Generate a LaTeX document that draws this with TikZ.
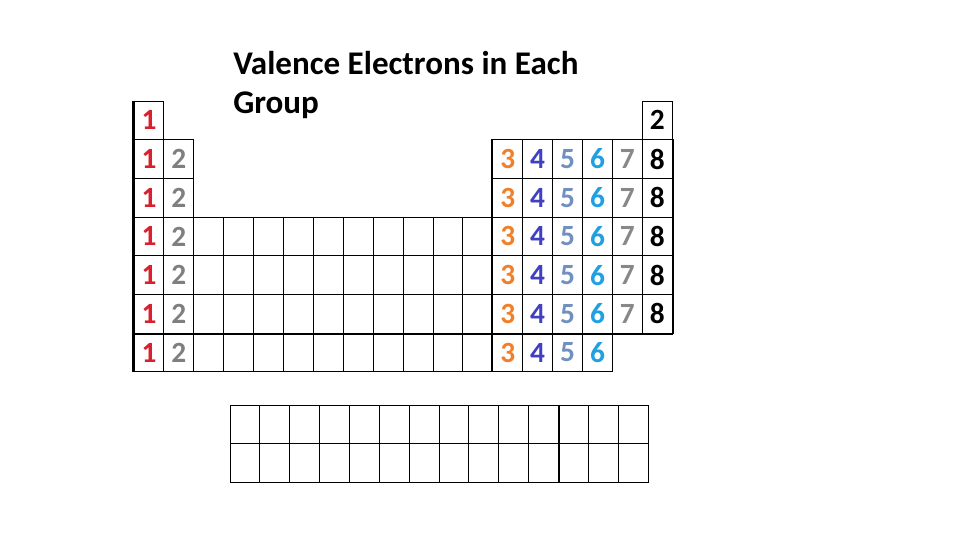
\documentclass[tikz,border=0pt]{standalone}
\usepackage{fontspec}
\setmainfont{Carlito}
\definecolor{cI}{HTML}{D8202E}
\definecolor{cII}{HTML}{7F7F7F}
\definecolor{cIII}{HTML}{F07F2A}
\definecolor{cIV}{HTML}{4040C0}
\definecolor{cV}{HTML}{7090C0}
\definecolor{cVI}{HTML}{20A0E0}
\definecolor{cVII}{HTML}{888888}
\definecolor{cVIII}{HTML}{000000}
\begin{document}
\begin{tikzpicture}[x=0.75pt,y=-0.75pt,
  cell/.style={draw, line width=0.75pt, rectangle, minimum width=22.425pt, minimum height=29.025pt, inner sep=0pt, font=\bfseries\fontsize{22}{22}\selectfont},
  fcell/.style={draw, line width=0.75pt, rectangle, minimum width=22.4pt, minimum height=28.875pt, inner sep=0pt},
  heavy/.style={line width=1.6pt},
  titletext/.style={anchor=base west, inner sep=0pt, font=\bfseries\fontsize{24.8}{24.8}\selectfont}]
\useasboundingbox (0,0) rectangle (960,540);
% title
\node[titletext] (t1) at (233,74) {Valence Electrons in Each};
\node[titletext] (t2) at (233,113) {Group};
% group 1
\foreach \r in {1,...,7}
  \node[cell, text=cI] (p\r-1) at ({134+29.9*0.5},{101+38.7*(\r-0.5)}) {1};
% group 2
\foreach \r in {2,...,7}
  \node[cell, text=cII] (p\r-2) at ({134+29.9*1.5},{101+38.7*(\r-0.5)}) {2};
% transition metals
\foreach \r in {4,...,7}
  \foreach \c in {3,...,12}
    \node[cell] (p\r-\c) at ({134+29.9*(\c-0.5)},{101+38.7*(\r-0.5)}) {};
% p-block, columns 13-16 (rows 2-7)
\foreach \c/\d/\cc in {13/3/cIII,14/4/cIV,15/5/cV,16/6/cVI}
  \foreach \r in {2,...,7}
    \node[cell, text=\cc] (p\r-\c) at ({134+29.9*(\c-0.5)},{101+38.7*(\r-0.5)}) {\d};
% p-block, columns 17-18 (rows 2-6)
\foreach \c/\d/\cc in {17/7/cVII,18/8/cVIII}
  \foreach \r in {2,...,6}
    \node[cell, text=\cc] (p\r-\c) at ({134+29.9*(\c-0.5)},{101+38.7*(\r-0.5)}) {\d};
% helium
\node[cell, text=black] (p1-18) at ({134+29.9*17.5},{101+38.7*0.5}) {2};
% heavy lines
\draw[heavy] (p1-1.north west) -- (p7-1.south west);
\draw[heavy] (p2-13.north west) -- (p7-13.south west);
\draw[heavy] (p2-18.north east) -- (p6-18.south east);
\draw[heavy] (p6-1.south west) -- (p6-18.south east);
% f-block
\foreach \r in {1,2}
  \foreach \c in {1,...,14}
    \node[fcell] (f\r-\c) at ({230+29.87*(\c-0.5)},{405+38.5*(\r-0.5)}) {};
\draw[heavy] (f1-11.north east) -- (f2-11.south east);
\end{tikzpicture}
\end{document}
